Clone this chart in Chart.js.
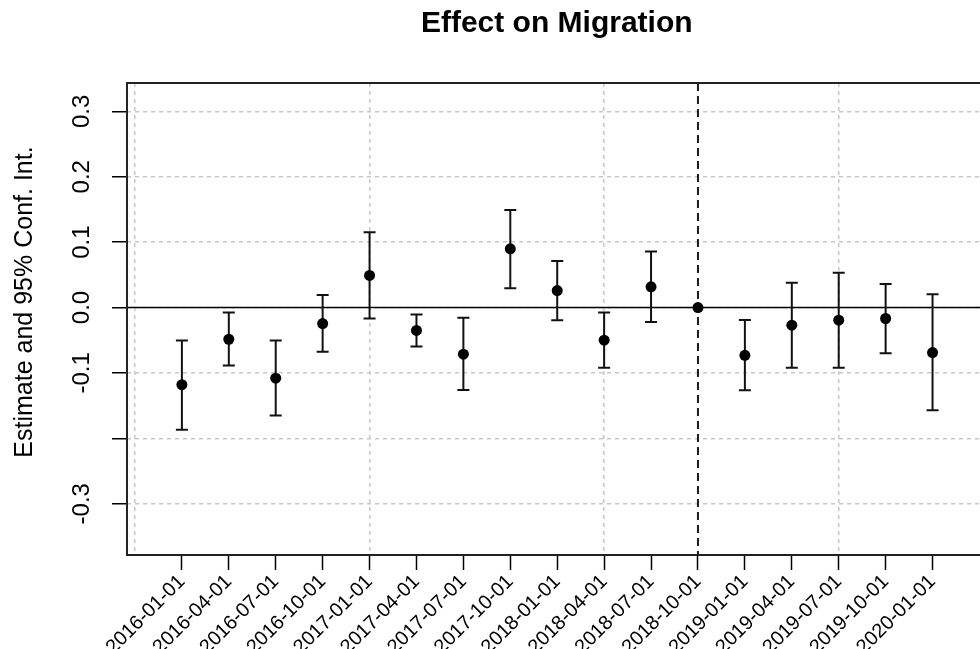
<!DOCTYPE html>
<html>
<head>
<meta charset="utf-8">
<title>Effect on Migration</title>
<script src="https://cdn.jsdelivr.net/npm/chart.js@4.4.0/dist/chart.umd.min.js"></script>
<style>
  html, body { margin: 0; padding: 0; background: #fff; overflow: hidden; }
  canvas { display: block; }
</style>
</head>
<body>
<canvas id="coefChart" width="992" height="649"></canvas>
<script>
// periods on the x axis
const periods = [
    '2016-01-01', '2016-04-01', '2016-07-01', '2016-10-01',
    '2017-01-01', '2017-04-01', '2017-07-01', '2017-10-01',
    '2018-01-01', '2018-04-01', '2018-07-01', '2018-10-01',
    '2019-01-01', '2019-04-01', '2019-07-01', '2019-10-01',
    '2020-01-01'
];

// point estimates and 95% confidence bounds (reference period has none)
const estimates = [-0.118, -0.0485, -0.108, -0.0245, 0.049, -0.035, -0.0713, 0.0898, 0.026, -0.0499, 0.0317, 0, -0.073, -0.027, -0.0194, -0.0168, -0.0689];
const ciLower = [-0.187, -0.0888, -0.165, -0.0677, -0.0168, -0.0596, -0.126, 0.0296, -0.0193, -0.0922, -0.0223, null, -0.1266, -0.0919, -0.0919, -0.070, -0.1569];
const ciUpper = [-0.0505, -0.0077, -0.0505, 0.019, 0.115, -0.0107, -0.0158, 0.149, 0.071, -0.0076, 0.0856, null, -0.019, 0.0377, 0.053, 0.036, 0.0202];

const referencePeriod = '2018-10-01';

// y axis ticks (R dropped the -0.2 label)
const yTicks = [-0.3, -0.2, -0.1, 0, 0.1, 0.2, 0.3];
const yTickLabels = ['-0.3', '', '-0.1', '0.0', '0.1', '0.2', '0.3'];

const yAxisTitle = 'Estimate and 95% Conf. Int.';

const FONT = '"Liberation Sans", Arial, Helvetica, sans-serif';
const X_MIN = -0.17, X_MAX = 18.15;

// error bars, zero line, reference line, plot frame and y title
const coefPlot = {
    id: 'coefPlot',
    beforeDatasetsDraw(chart) {
        const { ctx, chartArea: a, scales: { x, y } } = chart;
        ctx.save();

        const y0 = y.getPixelForValue(0);
        ctx.strokeStyle = '#000';
        ctx.lineWidth = 1.5;
        ctx.beginPath();
        ctx.moveTo(a.left, y0);
        ctx.lineTo(a.right, y0);
        ctx.stroke();

        const xr = x.getPixelForValue(periods.indexOf(referencePeriod) + 1);
        ctx.strokeStyle = '#1a1a1a';
        ctx.lineWidth = 2;
        ctx.setLineDash([8, 5]);
        ctx.beginPath();
        ctx.moveTo(xr, a.top);
        ctx.lineTo(xr, a.bottom);
        ctx.stroke();
        ctx.setLineDash([]);

        ctx.strokeStyle = '#111';
        ctx.lineWidth = 2;
        periods.forEach((p, i) => {
            if (ciLower[i] === null) return;
            const px = x.getPixelForValue(i + 1);
            const lo = y.getPixelForValue(ciLower[i]);
            const hi = y.getPixelForValue(ciUpper[i]);
            ctx.beginPath();
            ctx.moveTo(px, lo);
            ctx.lineTo(px, hi);
            ctx.moveTo(px - 6, lo);
            ctx.lineTo(px + 6, lo);
            ctx.moveTo(px - 6, hi);
            ctx.lineTo(px + 6, hi);
            ctx.stroke();
        });
        ctx.restore();
    },
    afterDraw(chart) {
        const { ctx, chartArea: a } = chart;
        ctx.save();
        ctx.strokeStyle = '#222';
        ctx.lineWidth = 2;
        ctx.strokeRect(a.left, a.top, a.right - a.left, a.bottom - a.top);

        // y title sits a bit above the middle of the box, as in the R plot
        ctx.translate(25, (a.top + a.bottom) / 2 - 17);
        ctx.rotate(-Math.PI / 2);
        ctx.fillStyle = '#000';
        ctx.font = '25px ' + FONT;
        ctx.textAlign = 'center';
        ctx.textBaseline = 'middle';
        ctx.fillText(yAxisTitle, 0, 0);
        ctx.restore();
    }
};

new Chart(document.getElementById('coefChart'), {
    type: 'scatter',
    data: {
        datasets: [{
            label: 'Estimate',
            data: periods.map((p, i) => ({ x: i + 1, y: estimates[i] })),
            backgroundColor: '#000',
            borderWidth: 0,
            pointRadius: 5.5
        }]
    },
    options: {
        responsive: false,
        animation: false,
        layout: { padding: { top: 0, right: 3, bottom: 0, left: 0 } },
        plugins: {
            legend: { display: false },
            tooltip: { enabled: false },
            title: {
                display: true,
                text: 'Effect on Migration',
                fullSize: false,
                color: '#000',
                font: { family: FONT, size: 30, weight: 'bold' },
                padding: { top: 6, bottom: 41 }
            }
        },
        scales: {
            x: {
                type: 'linear',
                position: 'bottom',
                min: X_MIN,
                max: X_MAX,
                afterBuildTicks: s => { s.ticks = periods.map((p, i) => ({ value: i + 1 })); },
                afterFit: s => { s.height = 94; },
                grid: { drawOnChartArea: false, drawTicks: true, tickLength: 15, tickColor: '#000', tickWidth: 1.5 },
                border: { display: false },
                ticks: {
                    autoSkip: false,
                    minRotation: 45,
                    maxRotation: 45,
                    padding: 0,
                    color: '#000',
                    font: { family: FONT, size: 20 },
                    callback: v => periods[v - 1]
                }
            },
            xGrid: {
                type: 'linear',
                position: 'top',
                min: X_MIN,
                max: X_MAX,
                afterBuildTicks: s => {
                    const t = [];
                    for (let v = 0; v <= X_MAX; v += 5) t.push({ value: v });
                    s.ticks = t;
                },
                afterFit: s => { s.height = 0; },
                grid: { color: '#c8c8c8', lineWidth: 1.5, drawTicks: false },
                border: { display: false, dash: [4, 4] },
                ticks: { display: false }
            },
            y: {
                min: -0.3784,
                max: 0.3433,
                afterBuildTicks: s => { s.ticks = yTicks.map(v => ({ value: v })); },
                afterFit: s => { s.width = 127; },
                grid: { color: '#c8c8c8', lineWidth: 1.5, tickLength: 15, tickColor: '#000', tickWidth: 1.5 },
                border: { display: false, dash: [4, 4] },
                ticks: {
                    minRotation: 90,
                    maxRotation: 90,
                    crossAlign: 'center',
                    padding: 9,
                    color: '#000',
                    font: { family: FONT, size: 24 },
                    callback: v => yTickLabels[yTicks.indexOf(v)]
                },
                title: { display: false }
            }
        }
    },
    plugins: [coefPlot]
});
</script>
</body>
</html>
